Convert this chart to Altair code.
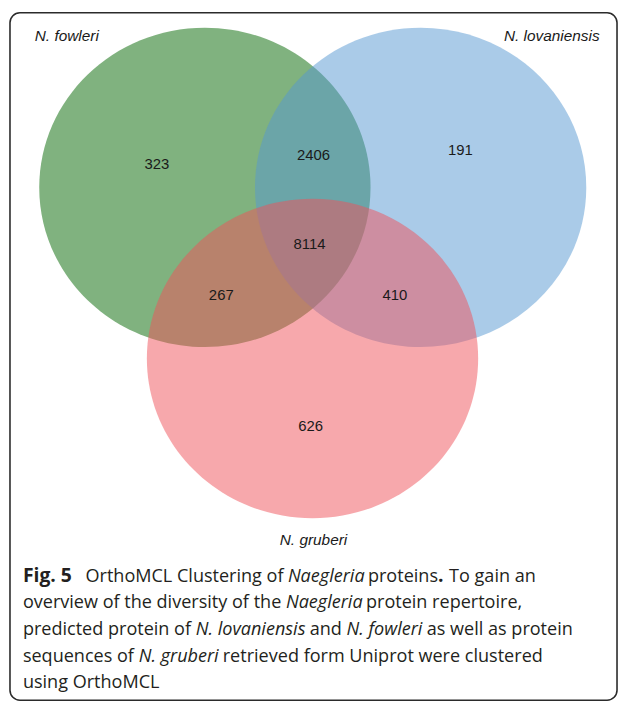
import altair as alt
import pandas as pd

# ---------------- data ----------------
sets = ["N. fowleri", "N. lovaniensis", "N. gruberi"]
set_colors = ["#80b27f", "#5597d1", "#ef5159"]
set_opacity = [1.0, 0.5, 0.5]

regions = ["fowleri only", "fowleri & lovaniensis", "lovaniensis only",
           "all three", "fowleri & gruberi", "lovaniensis & gruberi", "gruberi only"]
counts = [323, 2406, 191, 8114, 267, 410, 626]

caption_runs = [
    # (line, text, style, gap before in em)
    (0, "Fig. 5", "bold", 0.0),
    (0, "OrthoMCL Clustering of", "normal", 0.75),
    (0, "Naegleria", "italic", 0.26),
    (0, "proteins", "normal", 0.26),
    (0, ".", "bold", 0.0),
    (0, "To gain an", "normal", 0.30),
    (1, "overview of the diversity of the", "normal", 0.0),
    (1, "Naegleria", "italic", 0.26),
    (1, "protein repertoire,", "normal", 0.26),
    (2, "predicted protein of", "normal", 0.0),
    (2, "N. lovaniensis", "italic", 0.26),
    (2, "and", "normal", 0.26),
    (2, "N. fowleri", "italic", 0.26),
    (2, "as well as protein", "normal", 0.26),
    (3, "sequences of", "normal", 0.0),
    (3, "N. gruberi", "italic", 0.26),
    (3, "retrieved form Uniprot were clustered", "normal", 0.26),
    (4, "using OrthoMCL", "normal", 0.0),
]

# ---------------- layout (page pixels) ----------------
circle_cx = [206.5, 424, 315]
circle_cy = [186, 186, 358.5]
circle_rx = 167
ellipse_ratio = 161 / 167

count_x = [158, 316, 464, 312, 223, 398, 313]
count_y = [162, 153, 148, 243, 295, 295, 427]

label_x = [35, 508, 282]
label_y = [33, 33, 542]

caption_left = 23
caption_size = 18.2
bold_size = 19.5
line_baseline = [584, 610, 637, 664, 691]

# approximate advance widths (em/1000) of Open Sans, used only to flow the
# caption's mixed-style runs one after another on a line
_REG = dict(a=556, b=613, c=476, d=613, e=561, f=339, g=548, h=614, i=253,
            k=529, l=253, m=930, n=614, o=604, p=613, q=613, r=408, s=477,
            t=353, u=614, v=500, w=765, y=500, A=633, C=631, F=527, L=531,
            M=855, N=744, O=781, T=550, U=738)
_REG.update({" ": 260, ".": 266, ",": 245, "5": 572})
_BOLD = {"F": 561, "i": 293, "g": 559, ".": 292, "5": 572, " ": 260}


def run_width(text, style):
    if style == "bold":
        return sum(_BOLD.get(ch, 580) for ch in text) / 1000 * bold_size
    w = sum(_REG.get(ch, 560) for ch in text)
    if style == "italic":
        w *= 0.94
    return w / 1000 * caption_size


run_x = []
cursor = {}
for line, text, style, gap in caption_runs:
    x = cursor.get(line, caption_left) + gap * caption_size
    run_x.append(x)
    cursor[line] = x + run_width(text, style)

# ---------------- chart ----------------
X0, X1, Y0, Y1 = 10, 622, 10, 703
W, H = X1 - X0, Y1 - Y0
xs = alt.Scale(domain=[X0, X1], range=[0, W], nice=False, zero=False)
ys = alt.Scale(domain=[Y0, Y1], range=[0, H], nice=False, zero=False)

ellipse = (f"M -1 0 A 1 {ellipse_ratio:.4f} 0 1 1 1 0 "
           f"A 1 {ellipse_ratio:.4f} 0 1 1 -1 0 Z")

df_c = pd.DataFrame({"set": sets, "cx": circle_cx, "cy": circle_cy,
                     "op": set_opacity, "idx": [0, 1, 2]})
circles = alt.Chart(df_c).mark_point(
    filled=True, shape=ellipse, size=(2 * circle_rx) ** 2, strokeWidth=0
).encode(
    x=alt.X("cx:Q", scale=xs, axis=None),
    y=alt.Y("cy:Q", scale=ys, axis=None),
    color=alt.Color("set:N", scale=alt.Scale(domain=sets, range=set_colors), legend=None),
    opacity=alt.Opacity("op:Q", scale=None),
    order=alt.Order("idx:Q"),
)

df_n = pd.DataFrame({"region": regions, "count": counts, "x": count_x, "y": count_y})
numbers = alt.Chart(df_n).mark_text(
    font="Liberation Sans", fontSize=15, color="#1a1a1a", align="center", baseline="middle"
).encode(
    x=alt.X("x:Q", scale=xs, axis=None),
    y=alt.Y("y:Q", scale=ys, axis=None),
    text="count:Q",
)

df_l = pd.DataFrame({"set": sets, "x": label_x, "y": label_y})
labels = alt.Chart(df_l).mark_text(
    font="Liberation Sans", fontSize=15.5, fontStyle="italic", color="#1a1a1a",
    align="left", baseline="middle"
).encode(
    x=alt.X("x:Q", scale=xs, axis=None),
    y=alt.Y("y:Q", scale=ys, axis=None),
    text="set:N",
)

df_cap = pd.DataFrame({
    "line": [r[0] for r in caption_runs],
    "text": [r[1] for r in caption_runs],
    "style": [r[2] for r in caption_runs],
    "x": run_x,
})
df_cap["y"] = [line_baseline[l] for l in df_cap["line"]]


def cap_layer(style, size, **kw):
    return alt.Chart(df_cap[df_cap["style"] == style]).mark_text(
        font="Open Sans", fontSize=size, color="#231f20",
        align="left", baseline="alphabetic", **kw
    ).encode(
        x=alt.X("x:Q", scale=xs, axis=None),
        y=alt.Y("y:Q", scale=ys, axis=None),
        text="text:N",
    )


caption = cap_layer("normal", caption_size) + \
    cap_layer("italic", caption_size, fontStyle="italic") + \
    cap_layer("bold", bold_size, fontWeight="bold")

chart = alt.layer(circles, numbers, labels, caption).properties(
    width=W, height=H,
    padding={"left": 2, "top": 2, "right": 2, "bottom": 2},
    autosize=alt.AutoSizeParams(type="none"),
).configure_view(
    stroke="#2b2b2b", strokeWidth=1.6, cornerRadius=10, fill="white"
)

chart.save("out.html", embed_options={"renderer": "svg", "actions": False})
